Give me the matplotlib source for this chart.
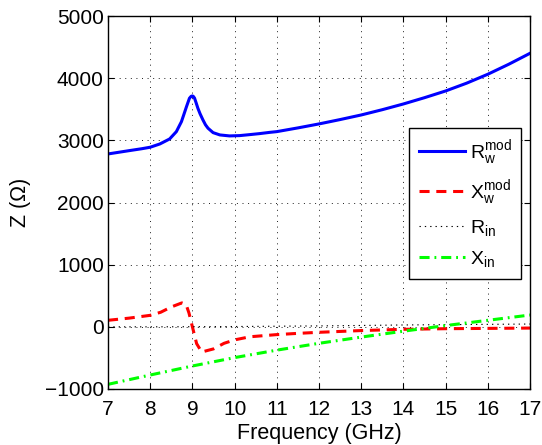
import matplotlib
matplotlib.use("Agg")
import matplotlib.pyplot as plt

plt.rcParams['font.family'] = ['Liberation Sans', 'DejaVu Sans']
plt.rcParams['mathtext.fontset'] = 'custom'
plt.rcParams['mathtext.rm'] = 'Liberation Sans'
plt.rcParams['mathtext.it'] = 'Liberation Sans'
plt.rcParams['mathtext.bf'] = 'Liberation Sans:bold'

# ---- data ----
f_rw = [7.0, 7.5, 7.8, 8.0, 8.23, 8.46, 8.62, 8.74, 8.80, 8.86, 8.93, 8.97, 9.0, 9.02, 9.05,
        9.09, 9.13, 9.18, 9.25, 9.31, 9.37, 9.49, 9.65, 9.88, 10.12, 10.36, 10.59, 10.83,
        11.0, 11.5, 12.0, 12.5, 13.0, 13.5, 14.0, 14.5, 15.0, 15.5, 16.0, 16.5, 17.0]
rw_mod = [2781, 2834, 2865, 2889, 2942, 3022, 3140, 3300, 3420, 3542, 3677, 3708, 3714, 3708, 3680,
          3600, 3516, 3430, 3328, 3250, 3195, 3124, 3087, 3071, 3076, 3092, 3108, 3128,
          3140, 3200, 3264, 3334, 3408, 3493, 3585, 3686, 3794, 3920, 4063, 4225, 4400]

f_xw = [7.0, 7.5, 8.0, 8.25, 8.5, 8.75, 8.85, 8.92, 9.0, 9.1, 9.22, 9.5, 9.75, 10.0, 10.36,
        11.0, 11.5, 12.0, 13.0, 14.0, 15.0, 16.0, 17.0]
xw_mod = [105, 140, 185, 235, 320, 385, 360, 220, 0, -270, -405, -355, -265, -210, -160,
          -125, -105, -88, -60, -40, -30, -25, -20]

f_in = [7, 8, 9, 10, 11, 12, 13, 14, 15, 16, 17]
r_in = [0, 0, 2, 5, 10, 15, 22, 30, 35, 40, 45]
x_in = [-925, -775, -630, -495, -375, -265, -165, -70, 20, 105, 190]

xticks = [7, 8, 9, 10, 11, 12, 13, 14, 15, 16, 17]
yticks = [-1000, 0, 1000, 2000, 3000, 4000, 5000]

# ---- figure ----
fig = plt.figure(figsize=(5.42, 4.45), dpi=100)
ax = fig.add_axes([108/542, 1-389/445, 422/542, 373/445])

ax.plot(f_rw, rw_mod, color='#0000ff', lw=2.2, label=r'R$_\mathregular{w}^\mathregular{mod}$')
ax.plot(f_xw, xw_mod, color='#ff0000', lw=2.2, linestyle=(0, (3.3, 2.2)),
        label=r'X$_\mathregular{w}^\mathregular{mod}$')
ax.plot(f_in, r_in, color='black', lw=0.8, linestyle=(0, (1.2, 3.6)),
        label=r'R$_\mathregular{in}$')
ax.plot(f_in, x_in, color='#00ff00', lw=2.2, linestyle=(0, (3.3, 1.6, 0.6, 1.6)),
        label=r'X$_\mathregular{in}$')

ax.set_xlim(7, 17)
ax.set_ylim(-1000, 5000)
ax.set_xticks(xticks)
ax.set_yticks(yticks)
ax.grid(True, color='black', lw=0.6, linestyle=(0, (1.2, 5.5)))
ax.tick_params(direction='in', top=True, right=True, length=4, width=0.8,
               labelsize=15, pad=3)
ax.tick_params(axis='x', pad=8)
for s in ax.spines.values():
    s.set_linewidth(1.0)

ax.set_xlabel('Frequency (GHz)', fontsize=15.5, labelpad=3)
ax.set_ylabel('Z (\u03a9)', fontsize=15.5, labelpad=10)

leg = ax.legend(loc='upper left', bbox_to_anchor=(0.713, 0.700), fontsize=14,
                frameon=True, fancybox=False, edgecolor='black', framealpha=1,
                handlelength=2.4, handletextpad=0.22, labelspacing=0.58,
                borderpad=0.5, borderaxespad=0)
leg.get_frame().set_linewidth(1.0)

fig.savefig('out.png', dpi=100)
